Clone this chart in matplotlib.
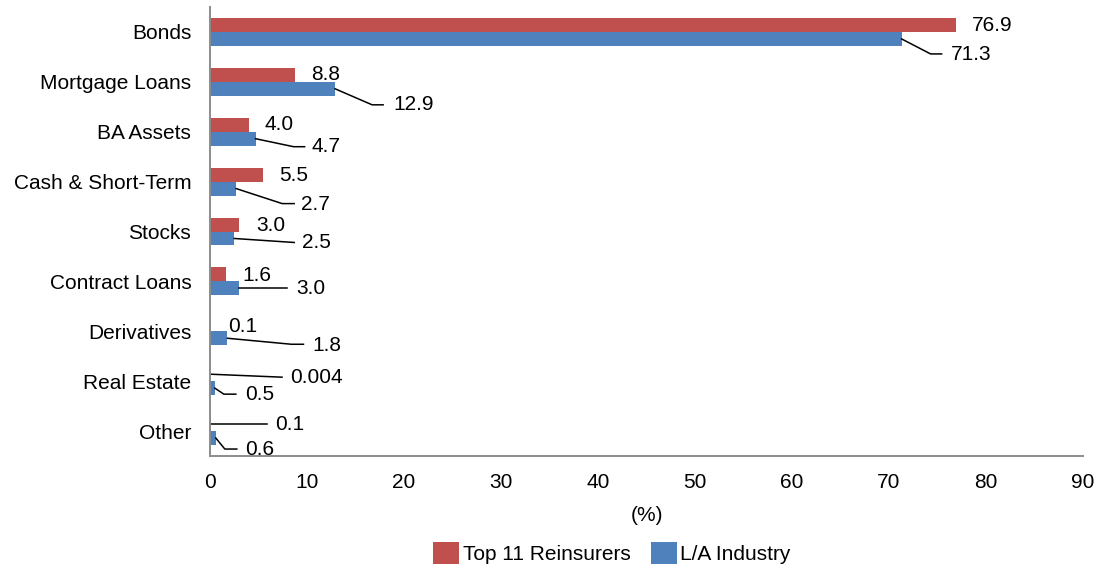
import numpy as np
import matplotlib
matplotlib.use("Agg")
import matplotlib.pyplot as plt

plt.rcParams['font.family'] = ['Liberation Sans', 'DejaVu Sans']

# data
categories = ["Bonds", "Mortgage Loans", "BA Assets", "Cash & Short-Term", "Stocks",
              "Contract Loans", "Derivatives", "Real Estate", "Other"]
top11 = [76.9, 8.8, 4.0, 5.5, 3.0, 1.6, 0.1, 0.004, 0.1]
la_industry = [71.3, 12.9, 4.7, 2.7, 2.5, 3.0, 1.8, 0.5, 0.6]
top11_labels = ["76.9", "8.8", "4.0", "5.5", "3.0", "1.6", "0.1", "0.004", "0.1"]
la_labels = ["71.3", "12.9", "4.7", "2.7", "2.5", "3.0", "1.8", "0.5", "0.6"]

RED = "#C0504D"
BLUE = "#4F81BD"

# leader line layout in pixels (dx, dy down) from bar end; None = plain label
red_leaders = [None, None, None, None, None, None, None,
               [(72, 3)], [(56, 0)]]
red_text_dx = [16, 16, 16, 16, 17, 17, 17, 80, 64]
red_text_dy = [1, 0, 0, 1, 1, 1, 2, 3, 0]
blue_leaders = [[(29, 15), (40, 15)], [(37, 16), (48, 16)], [(38, 8), (49, 8)],
                [(46, 15), (58, 15)], [(60, 4)], [(48, 0)], [(64, 6), (76, 6)],
                [(9, 6), (21, 6)], [(9, 11), (21, 11)]]
blue_text_dx = [49, 58, 56, 65, 68, 57, 85, 30, 29]
blue_text_dy = [16, 16, 8, 16, 4, 0, 7, 6, 11]

fig = plt.figure(figsize=(10.99, 5.68), dpi=100)
ax = fig.add_axes([210 / 1099, 1 - 456 / 568, (1083 - 210) / 1099, (456 - 7) / 568])

y = np.arange(len(categories))
h = 0.28
ax.barh(y - h / 2, top11, height=h, color=RED, label="Top 11 Reinsurers")
ax.barh(y + h / 2, la_industry, height=h, color=BLUE, label="L/A Industry")

ax.set_ylim(len(categories) - 0.5, -0.5)
ax.set_xlim(0, 90)
ax.set_xticks(np.arange(0, 91, 10))
ax.set_yticks(y)
ax.set_yticklabels(categories)
ax.tick_params(axis='both', length=0, labelsize=15)
ax.tick_params(axis='y', pad=13.5)
ax.tick_params(axis='x', pad=12.5)
ax.set_xlabel("(%)", fontsize=15, labelpad=10)

for s in ["top", "right"]:
    ax.spines[s].set_visible(False)
for s in ["left", "bottom"]:
    ax.spines[s].set_color("#8C8C8C")
    ax.spines[s].set_linewidth(1.4)

fig.canvas.draw()


def label(xv, yv, text, leader, tdx, tdy):
    x0, y0 = ax.transData.transform((xv, yv))
    if leader:
        xs = [x0] + [x0 + dx for dx, dy in leader]
        ys = [y0] + [y0 - dy for dx, dy in leader]
        ax.add_line(plt.Line2D(xs, ys, transform=None, color="black", lw=1.1))
    ax.annotate(text, xy=(xv, yv), xytext=(tdx, -tdy), textcoords="offset pixels",
                ha="left", va="center", fontsize=15, annotation_clip=False)


for i in range(len(categories)):
    label(top11[i], y[i] - h / 2, top11_labels[i], red_leaders[i], red_text_dx[i], red_text_dy[i])
    label(la_industry[i], y[i] + h / 2, la_labels[i], blue_leaders[i], blue_text_dx[i], blue_text_dy[i])

fig.legend(loc="center", bbox_to_anchor=(612 / 1099, 1 - 553 / 568), ncol=2, frameon=False,
           fontsize=15, handlelength=1.25, handleheight=1.25, handletextpad=0.15,
           columnspacing=1.0)

fig.savefig("out.png", dpi=100)
